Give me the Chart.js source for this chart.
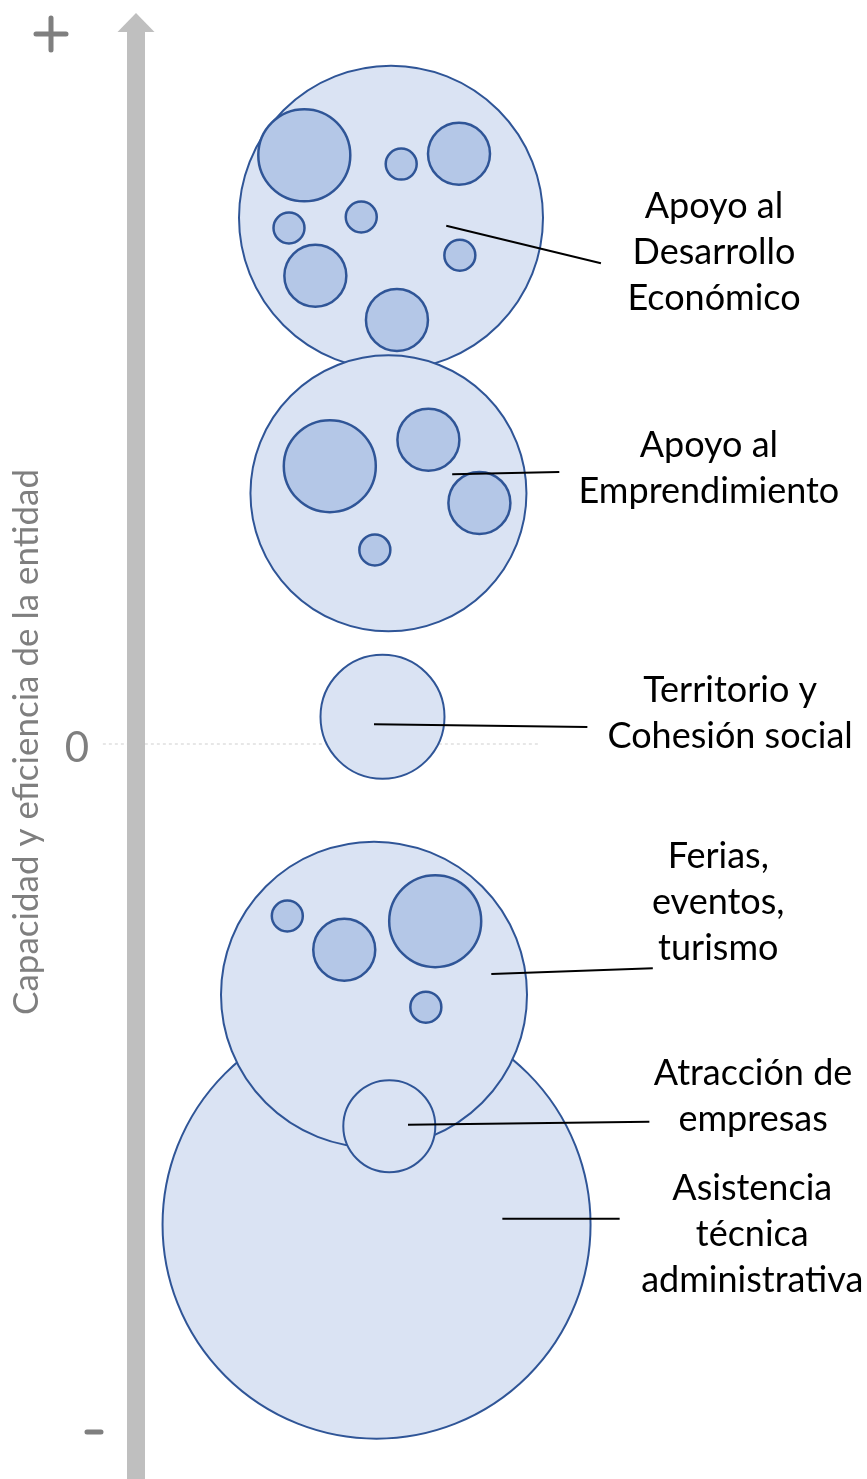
<!DOCTYPE html>
<html>
<head>
<meta charset="utf-8">
<script src="https://cdn.jsdelivr.net/npm/chart.js@4.4.1/dist/chart.umd.min.js"></script>
<style>
  html, body { margin: 0; padding: 0; background: #fff; }
  #wrap { width: 867px; height: 1479px; position: relative; }
</style>
</head>
<body>
<div id="wrap"><canvas id="bubbleChart"></canvas></div>
<script>
// Areas (big circles), drawn in this order
const categories = ['Apoyo al Desarrollo Económico', 'Apoyo al Emprendimiento', 'Territorio y Cohesión social',
    'Asistencia técnica administrativa', 'Ferias, eventos, turismo', 'Atracción de empresas'];
const labelLines = [['Apoyo al', 'Desarrollo', 'Económico'], ['Apoyo al', 'Emprendimiento'], ['Territorio y', 'Cohesión social'],
    ['Asistencia', 'técnica', 'administrativa'], ['Ferias,', 'eventos,', 'turismo'], ['Atracción de', 'empresas']];
const bigX = [3.00, 2.97, 2.90, 2.83, 2.80, 2.98];
const bigY = [7.16, 3.41, 0.37, -6.54, -3.41, -5.20];
const bigR = [152, 138, 62, 214, 153, 46];

// Programs inside each area (small circles)
const smallX = [1.98, 3.12, 3.80, 2.65, 1.80, 2.11, 3.81, 3.07, 2.28, 3.44, 4.04, 2.81, 1.78, 2.45, 3.52, 3.41];
const smallY = [8.01, 7.89, 8.03, 7.17, 7.02, 6.37, 6.65, 5.77, 3.78, 4.14, 3.28, 2.64, -2.34, -2.80, -2.41, -3.58];
const smallR = [46, 15.5, 31, 15.5, 15.5, 31, 15.5, 31, 46, 31, 31, 15.5, 15.5, 31, 46, 15.5];

// Leader lines (from circle to label) and label centres, in chart units
const lineFromX = [3.65, 3.72, 2.80, 4.31, 4.18, 3.20];
const lineFromY = [7.05, 3.67, 0.27, -6.46, -3.13, -5.18];
const lineToX = [5.47, 4.98, 5.31, 5.69, 6.08, 6.04];
const lineToY = [6.54, 3.70, 0.23, -6.46, -3.05, -5.14];
const labelX = [6.80, 6.74, 6.99, 7.25, 6.85, 7.26];
const labelY = [6.69, 3.75, 0.42, -6.67, -2.16, -4.79];

const axisTitle = 'Capacidad y eficiencia de la entidad';

const axisPlugin = {
    id: 'axisArrow',
    beforeDatasetsDraw(chart) {
        const ctx = chart.ctx;
        const xs = chart.scales.x, ys = chart.scales.y;
        const x0 = xs.getPixelForValue(0);
        const y0 = ys.getPixelForValue(0);
        ctx.save();
        // dashed zero line
        ctx.strokeStyle = '#d0d0d0';
        ctx.lineWidth = 1;
        ctx.setLineDash([3, 3]);
        ctx.beginPath();
        ctx.moveTo(xs.getPixelForValue(-0.39), y0);
        ctx.lineTo(xs.getPixelForValue(4.75), y0);
        ctx.stroke();
        ctx.setLineDash([]);
        // vertical arrow
        ctx.fillStyle = '#bfbfbf';
        ctx.fillRect(x0 - 9, 31, 18, chart.height - 31);
        ctx.beginPath();
        ctx.moveTo(x0, 13);
        ctx.lineTo(x0 + 18.5, 32);
        ctx.lineTo(x0 - 18.5, 32);
        ctx.closePath();
        ctx.fill();
        // + and -
        ctx.strokeStyle = '#7f7f7f';
        ctx.lineWidth = 5;
        ctx.lineCap = 'round';
        ctx.beginPath();
        ctx.moveTo(36, 34); ctx.lineTo(66, 34);
        ctx.moveTo(51, 18); ctx.lineTo(51, 50);
        ctx.moveTo(87, 1432); ctx.lineTo(101, 1432);
        ctx.stroke();
        // 0
        ctx.fillStyle = '#7f7f7f';
        ctx.font = '42px Lato';
        ctx.textAlign = 'center';
        ctx.textBaseline = 'middle';
        ctx.fillText('0', 77, y0 + 4);
        // rotated title
        ctx.translate(27, y0 - 2);
        ctx.rotate(-Math.PI / 2);
        ctx.font = '35px Lato';
        ctx.fillText(axisTitle, 0, 0);
        ctx.restore();
    },
    afterDatasetsDraw(chart) {
        const ctx = chart.ctx;
        const xs = chart.scales.x, ys = chart.scales.y;
        ctx.save();
        ctx.strokeStyle = '#000';
        ctx.lineWidth = 2;
        categories.forEach((c, i) => {
            ctx.beginPath();
            ctx.moveTo(xs.getPixelForValue(lineFromX[i]), ys.getPixelForValue(lineFromY[i]));
            ctx.lineTo(xs.getPixelForValue(lineToX[i]), ys.getPixelForValue(lineToY[i]));
            ctx.stroke();
        });
        ctx.fillStyle = '#000';
        ctx.font = '36px Lato';
        ctx.textAlign = 'center';
        ctx.textBaseline = 'middle';
        const lh = 46;
        labelLines.forEach((lines, i) => {
            const cx = xs.getPixelForValue(labelX[i]);
            const cy = ys.getPixelForValue(labelY[i]);
            lines.forEach((t, j) => {
                ctx.fillText(t, cx, cy + (j - (lines.length - 1) / 2) * lh);
            });
        });
        ctx.restore();
    }
};

const ctx = document.getElementById('bubbleChart').getContext('2d');
new Chart(ctx, {
    type: 'bubble',
    data: {
        datasets: [
            {
                label: 'Programas',
                data: smallX.map((x, i) => ({ x: x, y: smallY[i], r: smallR[i] })),
                backgroundColor: '#b4c7e7',
                borderColor: '#2f5597',
                borderWidth: 2.5,
                order: 0,
                clip: false
            },
            {
                label: 'Áreas',
                data: bigX.map((x, i) => ({ x: x, y: bigY[i], r: bigR[i] })),
                backgroundColor: '#dae3f3',
                borderColor: '#2f5597',
                borderWidth: 2,
                order: 1,
                clip: false
            }
        ]
    },
    options: {
        responsive: true,
        maintainAspectRatio: false,
        animation: false,
        events: [],
        layout: { autoPadding: false, padding: { top: 9, left: 0, right: 0, bottom: 0 } },
        plugins: { legend: { display: false }, tooltip: { enabled: false } },
        scales: {
            x: { display: false, min: -1.6, max: 8.6 },
            y: { display: false, min: -10, max: 10 }
        }
    },
    plugins: [axisPlugin]
});
</script>
</body>
</html>
